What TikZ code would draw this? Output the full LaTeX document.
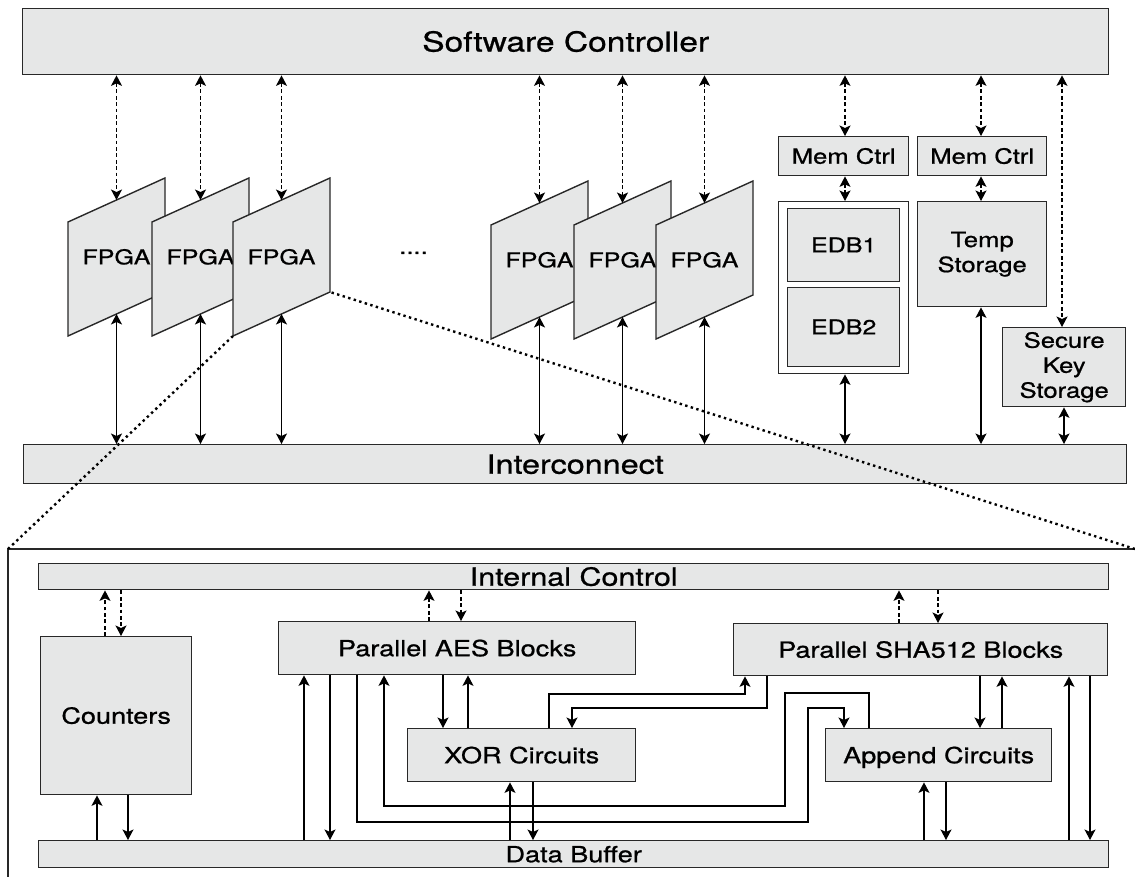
\documentclass[tikz,border=0pt]{standalone}
\usepackage{fontspec}
\setmainfont{TeX Gyre Heros}[FakeStretch=1.22,FakeBold=0.8]
\usetikzlibrary{arrows.meta}

\definecolor{boxfill}{RGB}{230,231,231}
\definecolor{edge}{RGB}{40,40,40}

% font sizes used in the drawing
\newcommand\szTitle{\fontsize{27.5}{30}\selectfont}
\newcommand\szBus{\fontsize{26.5}{30}\selectfont}
\newcommand\szCtl{\fontsize{25}{28}\selectfont}
\newcommand\szUp{\fontsize{21}{25}\selectfont}
\newcommand\szLow{\fontsize{22.2}{26}\selectfont}
\newcommand\szChip{\fontsize{20.5}{24}\selectfont}

% one slanted FPGA board: name, x of left edge, y of upper-left corner
\newcommand\fpga[3]{%
  \coordinate (#1-tl) at (#2,#3);
  \coordinate (#1-tr) at (#2+97,#3-44);
  \coordinate (#1-br) at (#2+97,#3+70);
  \coordinate (#1-bl) at (#2,#3+114);
  \coordinate (#1-t) at (#2+48.5,#3-22);
  \coordinate (#1-b) at (#2+48.5,#3+92);
  \draw[draw=edge, line width=1.4pt, fill=boxfill, line join=miter]
    (#1-tl) -- (#1-tr) -- (#1-br) -- (#1-bl) -- cycle;
  \node[font=\szChip, inner sep=0pt, text height=14.7pt, text depth=0pt]
    (#1) at (#2+48.5,#3+35) {FPGA};
}

\begin{document}
\begin{tikzpicture}[x=1pt,y=-1pt,
  box/.style={draw=edge, line width=1.4pt, fill=boxfill, inner sep=0pt,
              anchor=north west, align=center},
  one/.style={text height=#1, text depth=0pt},
  con/.style={line width=1.25pt, black},
  dcon/.style={con, dash pattern=on 3.8pt off 2.6pt},
  zoomline/.style={line width=2.4pt, dash pattern=on 2.4pt off 3.4pt},
  frame/.style={draw=edge, line width=1.5pt},
  >={Stealth[length=10.5pt,width=11pt,inset=2.5pt]}]

\useasboundingbox (0,0) rectangle (1135,877);

% ---------------- system level ----------------
\node[box, minimum width=1086, minimum height=66, font=\szTitle, one=19.7pt]
  (sc) at (22,8) {Software Controller};
\node[box, minimum width=1103, minimum height=39, font=\szBus, one=19pt]
  (ic) at (23,444) {Interconnect};

\fpga{f1}{68}{222}
\fpga{f2}{152}{222}
\fpga{f3}{233}{222}
\fpga{f4}{491}{225}
\fpga{f5}{574}{225}
\fpga{f6}{656}{225}

\node[font=\szUp, inner sep=0pt, anchor=base] (dots) at (413.5,254) {....};

\foreach \f in {f1,f2,f3,f4,f5,f6}{
  \draw[dcon,<->] (sc.south -| \f-t) -- (\f-t);
  \draw[con,<->] (\f-b) -- (ic.north -| \f-b);
}

% memories
\node[box, minimum width=130, minimum height=39, font=\szUp, one=15pt]
  (mem1) at (778,136) {Mem Ctrl};
\node[box, minimum width=129, minimum height=39, font=\szUp, one=15pt]
  (mem2) at (917,136) {Mem Ctrl};
\node[box, fill=white, minimum width=130, minimum height=172] (edb) at (778,201) {};
\node[box, minimum width=112, minimum height=73, font=\szChip, one=14.4pt]
  (edb1) at (787,208) {EDB1};
\node[box, minimum width=112, minimum height=79, font=\szChip, one=14.4pt]
  (edb2) at (787,287) {EDB2};
\node[box, minimum width=129, minimum height=105, font=\szUp]
  (temp) at (917,201) {Temp\\Storage};
\node[box, minimum width=123, minimum height=79, font=\szUp]
  (key) at (1002,327) {Secure\\Key\\Storage};

\draw[dcon,<->] (sc.south -| 845,0) -- (mem1.north -| 845,0);
\draw[dcon,<->] (sc.south -| 981,0) -- (mem2.north -| 981,0);
\draw[dcon,<->] (sc.south -| 1062,0) -- (key.north -| 1062,0);
\draw[dcon,<->] (mem1.south -| 845,0) -- (edb.north -| 845,0);
\draw[dcon,<->] (mem2.south -| 981,0) -- (temp.north -| 981,0);
\draw[con,<->] (edb.south -| 845,0) -- (ic.north -| 845,0);
\draw[con,<->] (temp.south -| 981,0) -- (ic.north -| 981,0);
\draw[con,<->] (key.south -| 1064,0) -- (ic.north -| 1064,0);

% ---------------- inside one FPGA ----------------
\coordinate (frameTL) at (8,549);
\coordinate (frameTR) at (1135,549);
\draw[frame] (8,880) -- (frameTL) -- (1140,549);

\node[box, minimum width=1070, minimum height=26, font=\szCtl, one=18pt]
  (ictl) at (38,563) {Internal Control};
\node[box, minimum width=1070, minimum height=27, font=\szLow, one=16pt]
  (db) at (38,840) {Data Buffer};
\node[box, minimum width=151, minimum height=158, font=\szLow, one=16pt]
  (cnt) at (40,636) {Counters};
\node[box, minimum width=357, minimum height=53, font=\szLow, one=16pt]
  (aes) at (278,621) {Parallel AES Blocks};
\node[box, minimum width=374, minimum height=52, font=\szLow, one=16pt]
  (sha) at (733,623) {Parallel SHA512 Blocks};
\node[box, minimum width=228, minimum height=53, font=\szLow, one=16pt]
  (xor) at (407,728) {XOR Circuits};
\node[box, minimum width=226, minimum height=53, font=\szLow, one=16pt]
  (app) at (825,728) {Append Circuits};

% control links
\draw[dcon,->] (cnt.north -| 105,0) -- (ictl.south -| 105,0);
\draw[dcon,->] (ictl.south -| 121,0) -- (cnt.north -| 121,0);
\draw[dcon,->] (aes.north -| 429,0) -- (ictl.south -| 429,0);
\draw[dcon,->] (ictl.south -| 461,0) -- (aes.north -| 461,0);
\draw[dcon,->] (sha.north -| 899,0) -- (ictl.south -| 899,0);
\draw[dcon,->] (ictl.south -| 938,0) -- (sha.north -| 938,0);

% data links
\draw[con,->] (db.north -| 97,0) -- (cnt.south -| 97,0);
\draw[con,->] (cnt.south -| 128,0) -- (db.north -| 128,0);
\draw[con,->] (db.north -| 304,0) -- (aes.south -| 304,0);
\draw[con,->] (aes.south -| 330,0) -- (db.north -| 330,0);
\draw[con,->] (aes.south -| 443,0) -- (xor.north -| 443,0);
\draw[con,->] (xor.north -| 468,0) -- (aes.south -| 468,0);
\draw[con,->] (db.north -| 510,0) -- (xor.south -| 510,0);
\draw[con,->] (xor.south -| 533,0) -- (db.north -| 533,0);
\draw[con,->] (sha.south -| 980,0) -- (app.north -| 980,0);
\draw[con,->] (app.north -| 1002,0) -- (sha.south -| 1002,0);
\draw[con,->] (db.north -| 924,0) -- (app.south -| 924,0);
\draw[con,->] (app.south -| 946,0) -- (db.north -| 946,0);
\draw[con,->] (db.north -| 1069,0) -- (sha.south -| 1069,0);
\draw[con,->] (sha.south -| 1090,0) -- (db.north -| 1090,0);

% routed links
\draw[con,->] (aes.south -| 357,0) |- (808,822) |- (844,708) -- (app.north -| 844,0);
\draw[con,->] (app.north -| 869,0) |- (785,693) |- (384,806) -- (aes.south -| 384,0);
\draw[con,->] (xor.north -| 549,0) |- (745,694) -- (sha.south -| 745,0);
\draw[con,->] (sha.south -| 767,0) |- (572,708) -- (xor.north -| 572,0);

% zoom lines from the third board to the detail frame
\draw[zoomline] (frameTL) -- (f3-bl);
\draw[zoomline] (frameTR) -- (f3-br);
\end{tikzpicture}
\end{document}
